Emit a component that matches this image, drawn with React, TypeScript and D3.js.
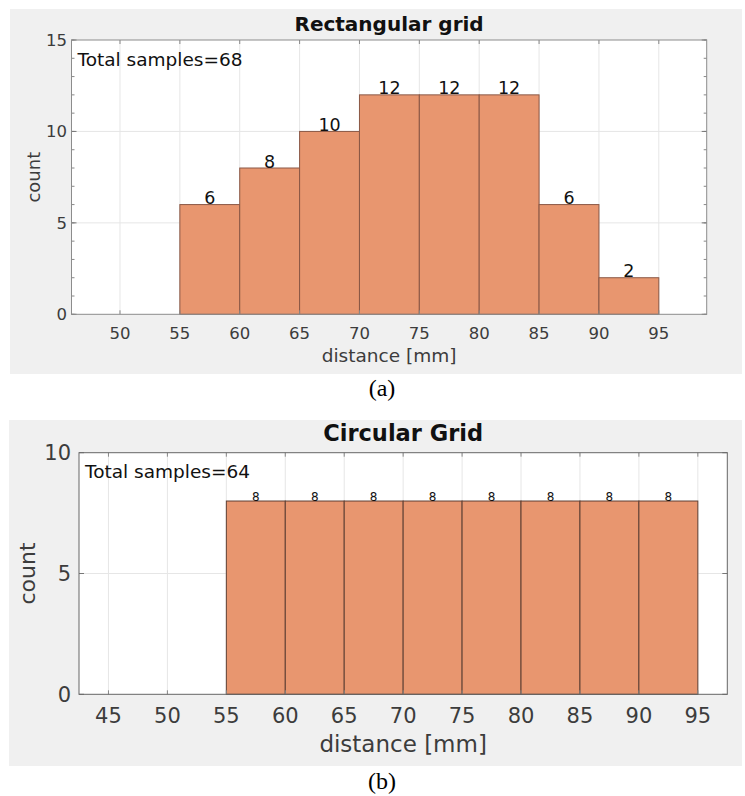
import React from 'react';
import * as d3 from 'd3';

// panel (a) – rectangular grid
const edgesA = [55, 60, 65, 70, 75, 80, 85, 90, 95];
const countsA = [6, 8, 10, 12, 12, 12, 6, 2];
const xTicksA = [50, 55, 60, 65, 70, 75, 80, 85, 90, 95];
const yTicksA = [0, 5, 10, 15];
const yMinorA = d3.range(0, 16);

// panel (b) – circular grid
const edgesB = [55, 60, 65, 70, 75, 80, 85, 90, 95];
const countsB = [8, 8, 8, 8, 8, 8, 8, 8];
const xTicksB = [45, 50, 55, 60, 65, 70, 75, 80, 85, 90, 95];
const yTicksB = [0, 5, 10];

const FONT = 'DejaVu Sans, sans-serif';
const TEXT = '#3c3c3c';

interface PanelProps {
    title: string;
    total: string;
    caption: string;
    edges: number[];
    counts: number[];
    xTicks: number[];
    yTicks: number[];
    yMinor: number[];
    xDomain: [number, number];
    yDomain: [number, number];
    bg: { x: number; y: number; w: number; h: number };
    plot: { left: number; right: number; top: number; bottom: number };
    sizes: { title: number; tick: number; label: number; total: number; value: number; count: number };
    pos: { titleY: number; tickY: number; labelY: number; totalY: number; countX: number; captionY: number; yTickX: number };
    edgeColor: string;
    frameColor: string;
}

const Panel: React.FC<PanelProps> = (p) => {
    const x = d3.scaleLinear().domain(p.xDomain).range([p.plot.left, p.plot.right]);
    const y = d3.scaleLinear().domain(p.yDomain).range([p.plot.bottom, p.plot.top]);
    const bins = p.counts.map((c, i) => ({ x0: p.edges[i], x1: p.edges[i + 1], c }));
    const cx = (p.plot.left + p.plot.right) / 2;
    const cy = (p.plot.top + p.plot.bottom) / 2;

    return (
        <g>
            <rect x={p.bg.x} y={p.bg.y} width={p.bg.w} height={p.bg.h} fill="#f0f0f0" />
            <rect x={p.plot.left} y={p.plot.top} width={p.plot.right - p.plot.left} height={p.plot.bottom - p.plot.top} fill="#fff" />

            {/* grid */}
            {p.xTicks.map(t => (
                <line key={'gx' + t} x1={x(t)} x2={x(t)} y1={p.plot.top} y2={p.plot.bottom} stroke="#e6e6e6" />
            ))}
            {p.yTicks.slice(1, -1).map(t => (
                <line key={'gy' + t} x1={p.plot.left} x2={p.plot.right} y1={y(t)} y2={y(t)} stroke="#e6e6e6" />
            ))}

            {/* bars */}
            {bins.map((b, i) => (
                <rect key={'b' + i} x={x(b.x0)} y={y(b.c)} width={x(b.x1) - x(b.x0)} height={y(0) - y(b.c)}
                    fill="#e8966f" stroke={p.edgeColor} strokeWidth={1} />
            ))}
            {bins.map((b, i) => (
                <text key={'v' + i} x={(x(b.x0) + x(b.x1)) / 2} y={y(b.c) - 0.5} textAnchor="middle"
                    fontFamily={FONT} fontSize={p.sizes.value} fill="#111">{b.c}</text>
            ))}

            {/* minor ticks */}
            {p.yMinor.map(t => (
                <g key={'m' + t}>
                    <line x1={p.plot.left} x2={p.plot.left + 3} y1={y(t)} y2={y(t)} stroke="#888" />
                    <line x1={p.plot.right} x2={p.plot.right - 3} y1={y(t)} y2={y(t)} stroke="#888" />
                </g>
            ))}
            {p.yTicks.map(t => (
                <g key={'mt' + t}>
                    <line x1={p.plot.left} x2={p.plot.left + 5} y1={y(t)} y2={y(t)} stroke="#777" />
                    <line x1={p.plot.right} x2={p.plot.right - 5} y1={y(t)} y2={y(t)} stroke="#777" />
                </g>
            ))}
            {p.xTicks.map(t => (
                <g key={'xt' + t}>
                    <line x1={x(t)} x2={x(t)} y1={p.plot.top} y2={p.plot.top + 4} stroke="#888" />
                    <line x1={x(t)} x2={x(t)} y1={p.plot.bottom} y2={p.plot.bottom - 4} stroke="#888" />
                </g>
            ))}

            <rect x={p.plot.left} y={p.plot.top} width={p.plot.right - p.plot.left} height={p.plot.bottom - p.plot.top}
                fill="none" stroke={p.frameColor} strokeWidth={1} />

            {/* tick labels */}
            {p.xTicks.map(t => (
                <text key={'xl' + t} x={x(t)} y={p.pos.tickY} textAnchor="middle" fontFamily={FONT}
                    fontSize={p.sizes.tick} fill={TEXT}>{t}</text>
            ))}
            {p.yTicks.map(t => (
                <text key={'yl' + t} x={p.pos.yTickX} y={y(t)} dy="0.36em" textAnchor="end" fontFamily={FONT}
                    fontSize={p.sizes.tick} fill={TEXT}>{t}</text>
            ))}

            <text x={cx} y={p.pos.titleY} textAnchor="middle" fontFamily={FONT} fontWeight="bold"
                fontSize={p.sizes.title} fill="#111">{p.title}</text>
            <text x={p.plot.left + 6} y={p.pos.totalY} fontFamily={FONT} fontSize={p.sizes.total} fill="#111">{p.total}</text>
            <text x={cx} y={p.pos.labelY} textAnchor="middle" fontFamily={FONT} fontSize={p.sizes.label} fill={TEXT}>distance [mm]</text>
            <text transform={`translate(${p.pos.countX},${cy}) rotate(-90)`} textAnchor="middle" fontFamily={FONT}
                fontSize={p.sizes.count} fill={TEXT}>count</text>
            <text x={382} y={p.pos.captionY} textAnchor="middle" fontFamily="Liberation Serif, serif" fontSize={24} fill="#000">{p.caption}</text>
        </g>
    );
};

const App: React.FC = () => {
    return (
        <svg width={745} height={796} style={{ position: 'absolute', left: 0, top: 0, background: '#fff' }}>
            <Panel
                title="Rectangular grid" total="Total samples=68" caption="(a)"
                edges={edgesA} counts={countsA} xTicks={xTicksA} yTicks={yTicksA} yMinor={yMinorA}
                xDomain={[45.95, 99]} yDomain={[0, 15]}
                bg={{ x: 10, y: 9, w: 732, h: 365 }}
                plot={{ left: 71.5, right: 706.7, top: 40, bottom: 314.3 }}
                sizes={{ title: 20, tick: 16.5, label: 18.5, total: 18.5, value: 17.5, count: 18 }}
                pos={{ titleY: 31, tickY: 339, labelY: 362, totalY: 66, countX: 40, captionY: 396, yTickX: 67 }}
                edgeColor="#8a5745" frameColor="#8c8c8c"
            />
            <Panel
                title="Circular Grid" total="Total samples=64" caption="(b)"
                edges={edgesB} counts={countsB} xTicks={xTicksB} yTicks={yTicksB} yMinor={[]}
                xDomain={[42.5, 97.5]} yDomain={[0, 10]}
                bg={{ x: 9, y: 420, w: 733, h: 346 }}
                plot={{ left: 79, right: 727.3, top: 452.7, bottom: 694.3 }}
                sizes={{ title: 22.5, tick: 21, label: 23, total: 18.5, value: 12, count: 22 }}
                pos={{ titleY: 441, tickY: 723, labelY: 752, totalY: 478, countX: 35, captionY: 789, yTickX: 71 }}
                edgeColor="#5e3f33" frameColor="#666"
            />
        </svg>
    );
};

export default App;
